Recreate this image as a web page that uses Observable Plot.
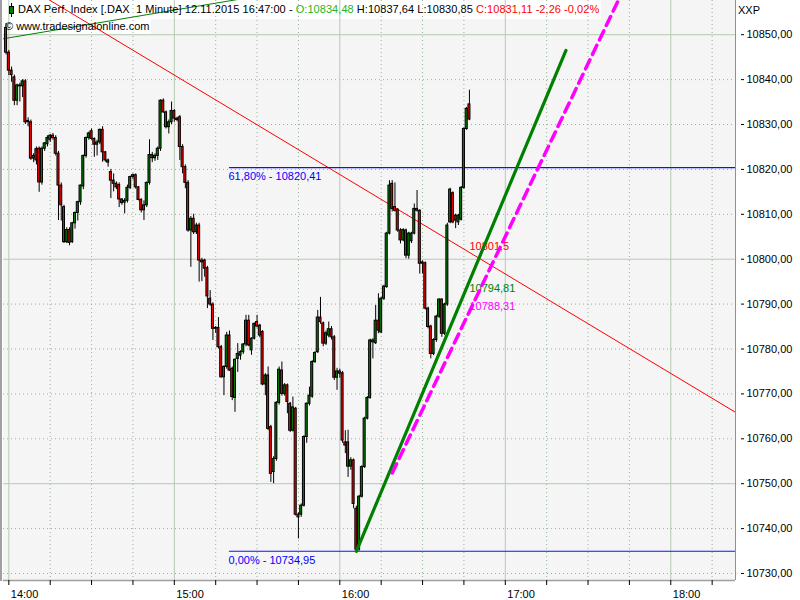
<!DOCTYPE html>
<html>
<head>
<meta charset="utf-8">
<script src="https://cdn.jsdelivr.net/npm/d3@7"></script>
<script src="https://cdn.jsdelivr.net/npm/@observablehq/plot@0.6"></script>
<style>
html,body{margin:0;padding:0;background:#fff;}
#wrap{position:relative;width:800px;height:600px;overflow:hidden;font-family:"Liberation Sans",Arial,sans-serif;font-size:11px;color:#000;}
#plotbg{position:absolute;left:3px;top:0;width:732px;height:580px;background:#f5f5f5;}
.hbox{position:absolute;background:#fff;}
#chart{position:absolute;left:0;top:0;}
#hdr1{position:absolute;left:18px;top:3px;white-space:pre;line-height:13px;letter-spacing:0.05px;}
#hdr2{position:absolute;left:5px;top:20px;white-space:pre;line-height:13px;}
#xxp{position:absolute;left:738px;top:4px;line-height:13px;}
#leftedge{position:absolute;left:0;top:0;width:2px;height:581px;background:#a0a0a0;}
#iconwick{position:absolute;left:11px;top:3px;width:1px;height:14px;background:#000;}
#iconbody{position:absolute;left:9px;top:6px;width:5px;height:8px;background:#008000;border:1px solid #000;box-sizing:border-box;}
</style>
</head>
<body>
<div id="wrap">
  <div id="plotbg"></div>
  <div class="hbox" style="left:3px;top:0;width:598px;height:19px"></div>
  <div class="hbox" style="left:3px;top:19px;width:148px;height:15px"></div>
  <div id="chart"></div>
  <div id="leftedge"></div>
  <div id="iconwick"></div>
  <div id="iconbody"></div>
  <div id="hdr1"></div>
  <div id="hdr2">© www.tradesignalonline.com</div>
  <div id="xxp">XXP</div>
</div>
<script>
// ---------- data ----------
const instrument = "DAX Perf. Index [.DAX  1 Minute]";
const stamp = "12.11.2015 16:47:00";
const changeText = "-2,26 -0,02%";
const firstBar = "2015-11-12T13:59:00Z"; // 1-minute bars

const open = [
10851.5,10846.0,10842.0,10840.5,10835.3,10838.7,10838.5,10839.6,10830.5,10830.5,
10822.4,10824.5,10824.6,10817.1,10824.6,10825.6,10826.6,10827.5,10827.0,10823.5,
10816.4,10811.6,10803.8,10806.5,10803.8,10808.0,10810.3,10812.7,10816.2,10823.0,
10827.0,10828.5,10826.8,10825.5,10826.0,10828.8,10823.8,10822.0,10819.4,10817.5,
10816.8,10816.5,10813.3,10812.6,10813.0,10815.9,10818.3,10818.7,10816.0,10813.2,
10810.9,10812.0,10817.0,10823.2,10822.5,10823.0,10824.6,10835.3,10832.7,10829.4,
10830.5,10833.0,10831.3,10831.6,10825.0,10820.5,10817.0,10806.4,10809.0,10806.0,
10807.5,10799.7,10799.7,10798.0,10791.2,10789.9,10784.5,10784.7,10780.4,10773.7,
10776.0,10783.0,10775.6,10769.1,10777.8,10778.5,10779.3,10781.0,10786.3,10779.7,
10782.3,10786.0,10785.2,10783.8,10772.1,10774.1,10762.6,10752.6,10755.5,10768.0,
10775.2,10770.0,10771.9,10767.8,10761.8,10766.7,10743.1,10743.1,10745.1,10760.4,
10767.8,10769.4,10777.1,10779.3,10787.0,10785.7,10781.2,10783.0,10784.4,10782.6,
10773.6,10775.0,10774.6,10759.2,10759.2,10753.8,10755.2,10744.4,10735.3,10747.1,
10753.7,10764.5,10769.1,10781.5,10781.3,10786.3,10783.7,10791.2,10793.8,10805.7,
10816.8,10811.6,10811.0,10806.4,10804.2,10806.4,10800.8,10804.0,10805.7,10811.2,
10810.8,10799.0,10799.1,10789.0,10785.0,10778.9,10782.0,10787.2,10791.0,10783.4,
10789.9,10808.2,10814.7,10809.7,10808.2,10808.8,10815.9,10829.0,10834.48];

const high = [
10852.5,10846.5,10842.8,10841.0,10839.0,10839.2,10840.0,10840.0,10831.5,10831.0,
10823.5,10825.0,10825.0,10825.0,10826.0,10827.5,10827.8,10828.0,10827.5,10824.0,
10817.0,10812.0,10807.0,10807.0,10808.2,10810.5,10812.9,10816.5,10823.2,10827.2,
10828.3,10829.0,10827.0,10826.5,10829.0,10829.5,10824.0,10822.3,10820.0,10819.0,
10817.2,10817.0,10813.5,10813.5,10816.5,10818.5,10819.0,10819.0,10816.2,10813.5,
10813.0,10817.2,10826.6,10823.8,10823.5,10825.0,10835.5,10835.7,10833.0,10831.0,
10835.0,10833.3,10831.6,10832.0,10825.5,10821.0,10817.5,10809.5,10810.0,10808.0,
10808.0,10800.2,10800.0,10798.4,10793.0,10790.3,10785.0,10787.0,10780.8,10776.3,
10783.7,10784.0,10776.0,10777.8,10781.2,10779.6,10781.2,10787.5,10787.5,10782.5,
10785.8,10787.5,10785.5,10784.1,10774.5,10776.0,10763.0,10756.0,10768.3,10776.0,
10777.1,10772.3,10772.2,10768.1,10769.3,10767.0,10743.5,10745.5,10760.7,10768.0,
10771.5,10777.4,10779.4,10788.6,10791.5,10786.0,10784.0,10786.0,10785.0,10783.0,
10775.7,10775.5,10775.0,10761.8,10761.9,10755.8,10755.5,10745.0,10747.4,10754.0,
10764.8,10769.4,10782.2,10782.3,10789.7,10792.3,10791.5,10794.2,10806.0,10817.5,
10817.5,10817.0,10811.3,10806.8,10806.8,10806.7,10806.0,10806.0,10812.3,10815.3,
10811.0,10799.6,10799.4,10789.3,10785.3,10782.3,10787.5,10791.2,10791.2,10790.2,
10808.0,10815.8,10815.0,10810.0,10810.0,10816.2,10829.3,10833.8,10837.64];

const low = [
10845.5,10840.9,10839.4,10834.2,10834.2,10835.0,10836.0,10830.0,10829.5,10822.0,
10821.5,10821.0,10814.9,10816.5,10824.0,10825.0,10826.0,10826.5,10823.0,10808.6,
10808.5,10803.5,10803.5,10803.0,10803.5,10806.7,10808.5,10812.0,10815.5,10822.5,
10826.5,10826.5,10822.7,10823.0,10825.5,10821.6,10821.6,10820.5,10813.5,10815.0,
10815.5,10811.5,10812.0,10810.1,10812.5,10815.5,10817.7,10815.6,10813.0,10810.3,
10808.6,10811.5,10816.5,10821.5,10821.8,10822.0,10824.0,10832.5,10829.0,10827.9,
10830.0,10830.5,10830.6,10822.0,10819.0,10815.7,10806.0,10798.2,10805.5,10805.5,
10794.9,10795.0,10796.0,10789.0,10789.5,10781.9,10783.5,10780.0,10773.5,10769.6,
10775.5,10775.0,10768.5,10765.9,10774.8,10777.5,10778.8,10780.5,10780.5,10778.6,
10782.0,10784.7,10782.5,10771.8,10769.6,10761.8,10750.3,10750.0,10755.0,10767.5,
10769.5,10769.5,10765.6,10761.4,10761.5,10742.8,10737.7,10742.5,10744.8,10759.0,
10767.3,10769.0,10776.8,10779.0,10785.5,10780.5,10780.8,10782.5,10782.0,10773.0,
10770.8,10773.5,10759.0,10756.7,10751.4,10753.0,10744.4,10734.95,10735.0,10746.8,
10753.4,10764.2,10768.8,10777.8,10781.0,10783.4,10783.4,10790.8,10793.5,10805.4,
10810.5,10810.5,10806.0,10803.4,10803.9,10800.1,10800.0,10803.5,10805.4,10810.5,
10796.7,10796.7,10788.7,10784.5,10777.8,10778.5,10781.5,10786.8,10782.6,10783.0,
10789.5,10807.9,10807.9,10806.8,10807.5,10808.5,10815.6,10828.7,10830.85];

const close = [
10846.0,10842.0,10841.0,10835.3,10838.7,10838.5,10839.6,10830.5,10830.8,10822.4,
10823.0,10822.0,10817.1,10824.6,10825.8,10827.0,10827.5,10827.0,10823.5,10816.4,
10812.0,10803.8,10806.5,10803.6,10808.0,10810.3,10812.7,10816.4,10823.0,10827.0,
10828.0,10826.8,10825.5,10826.0,10828.8,10823.8,10822.0,10821.5,10817.5,10816.8,
10816.0,10813.3,10812.5,10813.0,10815.9,10818.3,10818.7,10816.0,10813.2,10810.9,
10812.0,10817.0,10823.2,10822.5,10823.0,10824.6,10835.3,10832.7,10829.4,10830.5,
10833.0,10831.3,10831.0,10825.0,10820.5,10817.0,10806.4,10809.0,10806.0,10807.5,
10799.7,10799.3,10797.9,10791.7,10789.9,10784.5,10784.7,10780.4,10773.7,10776.0,
10783.0,10775.2,10769.3,10777.6,10778.9,10779.3,10781.0,10786.3,10780.8,10782.3,
10785.6,10785.0,10783.0,10772.1,10774.1,10762.2,10752.2,10755.5,10768.0,10775.4,
10770.0,10771.9,10768.2,10761.8,10767.0,10743.1,10742.5,10745.1,10760.4,10767.8,
10769.6,10777.1,10779.1,10787.0,10786.0,10781.2,10783.5,10784.4,10782.6,10773.6,
10775.0,10774.5,10759.6,10758.5,10753.8,10755.2,10745.5,10735.3,10747.1,10753.7,
10764.5,10769.1,10781.9,10781.9,10786.3,10784.1,10791.2,10793.9,10805.7,10816.4,
10811.2,10810.8,10806.4,10804.2,10806.5,10800.8,10805.7,10805.7,10811.2,10810.8,
10799.0,10799.3,10789.0,10784.9,10778.9,10782.0,10787.2,10791.0,10783.4,10789.9,
10807.5,10815.5,10808.2,10808.6,10809.7,10815.9,10829.0,10833.5,10831.11];

// axis ticks
const yTickValues = [10730,10740,10750,10760,10770,10780,10790,10800,10810,10820,10830,10840,10850];
const yMajorGrid = [10750, 10800, 10850];
const hourTicks = ["14:00","15:00","16:00","17:00","18:00"];
const quarterTicks = ["14:15","14:30","14:45","15:15","15:30","15:45","16:15","16:30","16:45",
                      "17:15","17:30","17:45","18:15"];
const xDomain = ["13:58:04","18:23:28"];
const yDomain = [10728.44, 10857.62];

// drawing tools
const redLineTimes = ["13:58","18:24"];
const redLineValues = [10863.9, 10765.7];
const greenThinTimes = ["13:58","15:40"];
const greenThinValues = [10849.1, 10859.6];
const greenTrendTimes = ["16:06","17:22"];
const greenTrendValues = [10734.95, 10846.5];
const magentaTimes = ["16:19","17:45"];
const magentaValues = [10752.4, 10862.8];
const fibStart = "15:20";
const fibValues = [10820.41, 10734.95];
const fibTexts = ["61,80% - 10820,41", "0,00% - 10734,95"];
const lineLabelTexts = ["10801,5", "10794,81", "10788,31"];
const lineLabelValues = [10801.5, 10794.81, 10788.31];

// ---------- styles ----------
const lineLabelColors = ["#ff0000", "#008000", "#ff00ff"];
const lineLabelDy = [-6, 6, -5];

// ---------- build ----------
const T = s => new Date(`2015-11-12T${s.length === 5 ? s + ":00" : s}Z`);
const t0 = new Date(firstBar);
const candles = open.map((o, i) => ({
  time: new Date(+t0 + i * 60000), open: o, high: high[i], low: low[i], close: close[i]
}));
const lastTime = candles[candles.length - 1].time;
const pts = (ts, vs) => ts.map((t, i) => ({time: T(t), value: vs[i]}));
const fmt = v => v.toFixed(2).replace(".", ",");
const last = candles[candles.length - 1];

document.getElementById("hdr1").innerHTML =
  `${instrument} ${stamp} - <span style="color:#1fb51f">O:${fmt(last.open)}</span> H:${fmt(last.high)} L:${fmt(last.low)} <span style="color:#ff0000">C:${fmt(last.close)} ${changeText}</span>`;

const minorY = yTickValues.filter(v => !yMajorGrid.includes(v));
const xEnd = T(xDomain[1]);
const xStartD = T(xDomain[0]);

const fibSegments = fibValues.flatMap((v, i) => [
  {level: i, time: T(fibStart), value: v},
  {level: i, time: xEnd, value: v}
]);

const labelMarks = lineLabelTexts.map((txt, i) =>
  Plot.text([{text: txt, value: lineLabelValues[i]}], {
    x: () => lastTime, y: "value", text: "text", fill: lineLabelColors[i],
    textAnchor: "start", dy: lineLabelDy[i], fontSize: 11
  }));

const chart = Plot.plot({
  width: 800, height: 600,
  marginTop: 0, marginBottom: 20, marginLeft: 3, marginRight: 65,
  style: {background: "transparent", fontFamily: "'Liberation Sans', Arial, sans-serif", fontSize: "11px", color: "#000"},
  x: {type: "utc", domain: [xStartD, xEnd]},
  y: {domain: yDomain},
  marks: [
    // grid
    Plot.ruleY(minorY, {stroke: "#98b098", strokeDasharray: "1,3"}),
    Plot.ruleX(quarterTicks.map(T), {stroke: "#98b098", strokeDasharray: "1,3"}),
    Plot.ruleY(yMajorGrid, {stroke: "#b6cab2"}),
    Plot.ruleX(hourTicks.map(T), {stroke: "#b6cab2"}),
    // thin trendlines
    Plot.line(pts(greenThinTimes, greenThinValues), {x: "time", y: "value", stroke: "#008000", strokeWidth: 1, clip: true}),
    Plot.line(pts(redLineTimes, redLineValues), {x: "time", y: "value", stroke: "#ff0000", strokeWidth: 1, clip: true}),
    // fibonacci
    Plot.line(fibSegments, {x: "time", y: "value", z: "level", stroke: "#1010ff", strokeWidth: 1.2}),
    Plot.text(fibValues.map((v, i) => ({value: v, text: fibTexts[i]})), {
      x: () => T(fibStart), y: "value", text: "text", fill: "#0000ff", textAnchor: "start", dy: 9, dx: -1, fontSize: 11
    }),
    // candles
    Plot.ruleX(candles, {x: "time", y1: "low", y2: "high", stroke: "#000", strokeWidth: 1}),
    Plot.rect(candles, {
      x1: d => new Date(+d.time - 22000), x2: d => new Date(+d.time + 22000),
      y1: "open", y2: "close",
      fill: d => d.close >= d.open ? "#008000" : "#ff0000",
      stroke: "#000", strokeWidth: 1
    }),
    ...labelMarks,
    // thick trendlines
    Plot.line(pts(greenTrendTimes, greenTrendValues), {x: "time", y: "value", stroke: "#008000", strokeWidth: 3.2, clip: true}),
    Plot.line(pts(magentaTimes, magentaValues), {x: "time", y: "value", stroke: "#ff00ff", strokeWidth: 3.5, strokeDasharray: "10,6", clip: true}),
    // borders
    Plot.ruleX([xEnd], {stroke: "#909090", strokeWidth: 1}),
    Plot.ruleY([yDomain[0]], {stroke: "#a0a0a0", strokeWidth: 1.5}),
    // axes
    Plot.axisY({anchor: "right", ticks: yTickValues, tickFormat: fmt, tickSize: 3, dx: 5, tickPadding: 3, label: null, fontSize: 11}),
    Plot.axisX({ticks: [...hourTicks, ...quarterTicks].map(T), tickFormat: () => "", tickSize: 5, label: null}),
    Plot.axisX({ticks: hourTicks.map(T), tickFormat: d => d3.utcFormat("%H:%M")(d), tickSize: 0, tickPadding: 10,
                textAnchor: "start", dx: 2, label: null, fontSize: 11})
  ]
});
document.getElementById("chart").appendChild(chart);
</script>
</body>
</html>
